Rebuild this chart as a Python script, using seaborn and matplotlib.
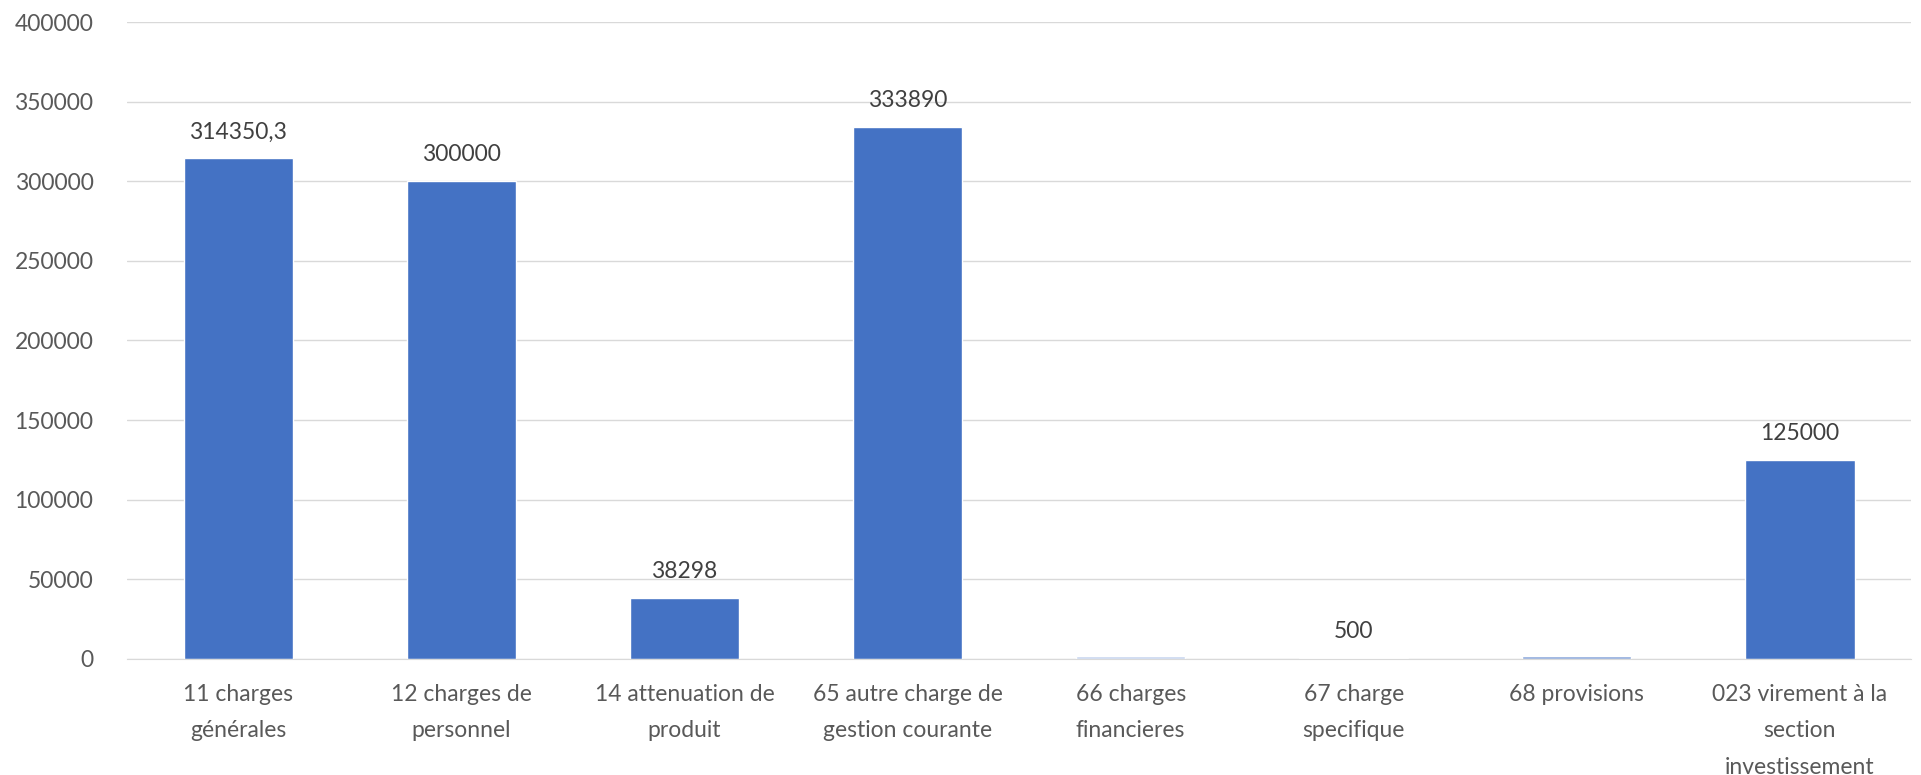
import numpy as np
import pandas as pd
import matplotlib
matplotlib.use("Agg")
import matplotlib.pyplot as plt
import seaborn as sns

categories = ["11 charges\ngénérales", "12 charges de\npersonnel", "14 attenuation de\nproduit",
              "65 autre charge de\ngestion courante", "66 charges\nfinancieres", "67 charge\nspecifique",
              "68 provisions", "023 virement à la\nsection\ninvestissement"]
values = [314350.3, 300000, 38298, 333890, 2000, 500, 2000, 125000]
labels = ["314350,3", "300000", "38298", "333890", "", "500", "", "125000"]
bar_colors = ["#4472c4", "#4472c4", "#4472c4", "#4472c4", "#c9d7f0", "#4472c4", "#8eaadb", "#4472c4"]
y_ticks = [0, 50000, 100000, 150000, 200000, 250000, 300000, 350000, 400000]

sns.set_style("white")
plt.rcParams["font.family"] = ["Lato", "DejaVu Sans"]

df = pd.DataFrame({"cat": categories, "val": values})

fig, ax = plt.subplots(figsize=(19.21, 7.75), dpi=100)
fig.subplots_adjust(left=0.066, right=0.995, top=0.9716, bottom=0.1497)

sns.barplot(data=df, x="cat", y="val", hue="cat", palette=bar_colors, legend=False,
            width=0.49, ax=ax, saturation=1)

for i, p in enumerate(ax.patches):
    if labels[i]:
        ax.text(p.get_x() + p.get_width() / 2, p.get_height() + 10000, labels[i],
                ha="center", va="bottom", fontsize=16.5, color="#404040")

ax.set_ylim(0, 400000)
ax.set_xlim(-0.5, len(categories) - 0.5)
ax.set_yticks(y_ticks)
ax.set_yticklabels([str(t) for t in y_ticks], fontsize=16.5, color="#595959")
ax.yaxis.grid(True, color="#d9d9d9", linewidth=1)
ax.set_axisbelow(True)
ax.tick_params(axis="y", length=0, pad=24)
ax.tick_params(axis="x", labelsize=16.5, labelcolor="#595959", length=0, pad=18)
for t in ax.get_xticklabels():
    t.set_linespacing(1.9)
ax.set_xticks(np.arange(-0.5, len(categories)), minor=True)
ax.tick_params(axis="x", which="minor", length=9, color="#d9d9d9", width=1)
ax.set_xlabel("")
ax.set_ylabel("")
for s in ["top", "right", "left"]:
    ax.spines[s].set_visible(False)
ax.spines["bottom"].set_color("#d9d9d9")

fig.savefig("out.png", dpi=100)
